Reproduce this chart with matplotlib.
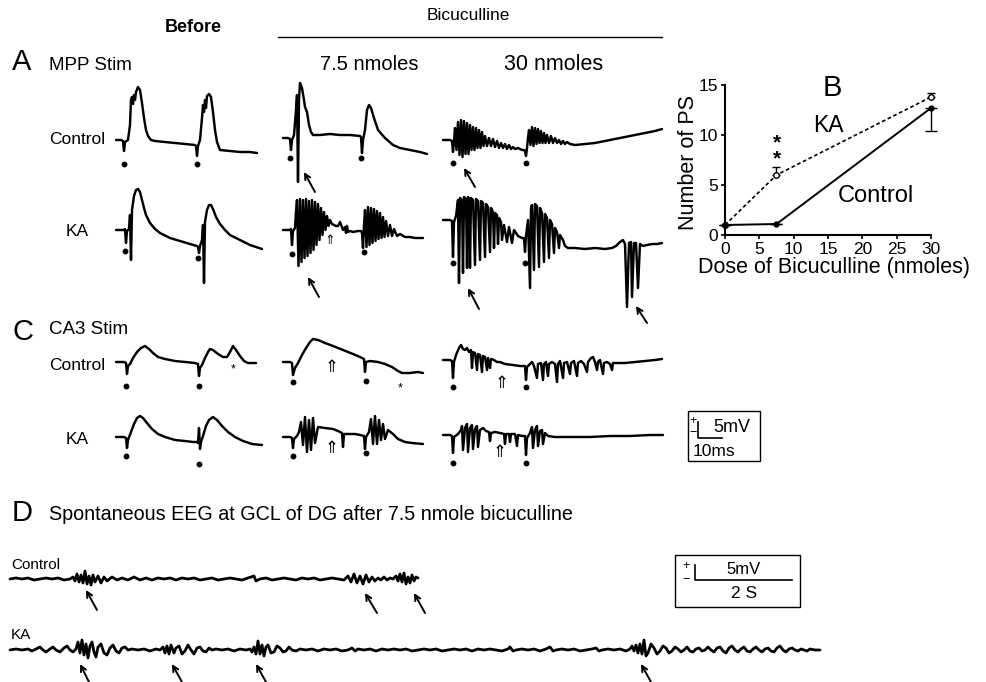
import numpy as np
import matplotlib
matplotlib.use("Agg")
import matplotlib.pyplot as plt
from matplotlib.patches import Rectangle

plt.rcParams['font.family'] = ['Liberation Sans', 'DejaVu Sans']

# ---------------- panel B: number of population spikes vs dose
dose = [0, 7.5, 30]
ps_control = [1.0, 1.1, 12.7]
ps_control_sem = [0, 0, 2.3]     # drawn downward
ps_ka = [1.0, 6.0, 13.8]
ps_ka_sem = [0, 0.8, 0.4]        # drawn upward

# ---------------- evoked field potentials
# t = time from sweep start, v = voltage (up positive), both in px of the original figure
A_ctrl_before_t = [0,5,7,8,9,12,14,15,16,17,18,19,20,22,24,26,28,30,32,35,39,49,59,69,79,80,81,82,84,86,87,88,89,90,91,93,95,97,99,101,104,114,124,134,141]
A_ctrl_before_v = [0,0,-1,-11,-2,0,15,40,43,36,45,40,48,53,50,37,22,10,4,0,-1,-2,-3,-4,-5,-6,-16,-6,0,22,35,28,40,32,44,46,43,28,10,-2,-10,-11,-12,-12,-13]

A_ctrl_75_t = [0,5,7,8,9,11,13,14,15,16,17,19,21,22,24,26,28,30,37,47,57,67,77,78,79,80,82,84,86,88,91,95,102,110,117,127,137,144]
A_ctrl_75_v = [0,0,-1,-12,-2,3,28,43,-44,38,55,50,38,31,26,13,6,3,3,4,3,3,2,1,-15,-2,8,28,33,30,20,8,0,-7,-10,-12,-14,-16]

A_ctrl_30_t = [0,7,9,10,11,
               12,13.5,15,16.5,18,19.5,21,22.5,24,25.5,27,28.5,30,31.5,33,34.5,36,37.5,39,40.5,
               42,44,46,48,50,52,54,56,58,60,62,64,66,68,70,72,75,79,81,82,
               83,84,85,86,87.5,89,90.5,92,93.5,95,96.5,98,99.5,101,102.5,104,106,108,110,112,
               114,116,118,120,122,124,127,132,142,152,162,172,182,192,202,212,219]
A_ctrl_30_v = [0,0,-1,-12,-1,
               12,-10,18,-15,20,-17,19,-14,17,-14,15,-10,13,-10,12,-8,10,-8,8,-6,
               4,-6,2,-6,1,-7,-1,-8,-3,-8,-4,-9,-5,-9,-7,-9,-8,-10,-10,-11,
               -16,-8,2,10,-5,13,-6,12,-4,11,-3,9,-3,7,-3,5,-3,4,-3,2,
               -3,0,-4,-1,-4,-2,-4,-5,-4,-3,-1,1,3,5,7,9,11]

A_ka_before_t = [0,8,9,10,11,13,14,15,16,18,20,22,24,26,28,30,34,39,44,54,64,74,81,82,83,84,86,87,88,89,91,93,95,97,100,104,109,114,124,134,146]
A_ka_before_v = [0,0,1,-13,-1,1,15,-30,20,34,40,41,38,30,22,15,7,1,-3,-8,-11,-14,-16,-17,-23,-16,-10,5,-53,8,20,25,25,21,13,6,0,-5,-10,-15,-19]

A_ka_75_t = [0,7,8,9,10,12,
             13,14,15.5,17,18.5,20,21.5,23,24.5,26,27.5,29,30.5,32,33.5,35,36.5,38,39.5,41,42.5,44,45.5,
             47,49,51,53,55,57,60,62,63,64,65,67,70,75,
             78,79,80,81,82,83.5,85,86.5,88,89.5,91,92.5,94,95.5,97,98.5,100,101.5,103,105,
             107,109,111,114,117,122,127,132,140]
A_ka_75_v = [0,0,1,-15,-1,2,
             18,30,-36,31,-32,30,-28,31,-26,29,-23,30,-20,28,-15,26,-10,22,-5,18,0,14,4,
             10,6,5,4,4,8,0,3,-3,4,-2,-1,-2,-1,
             -1,-3,-18,5,20,-17,23,-15,22,-13,21,-11,19,-9,17,-8,13,-7,9,-6,
             5,-6,1,-6,-4,-7,-7,-8,-8]

A_ka_30_t = [0,7,9,10,11,13,15,16,17,19,20,21,23,24,25,26,27,28,30,32,33,35,37,38,40,42,43,45,47,48,50,51,52,54,55,56,58,59,61,64,66,69,71,75,79,81,82,
             83,85,87,88,89,91,92,94,96,97,99,101,102,104,106,107,109,111,112,114,116,117,120,122,125,132,142,152,162,169,173,177,180,182,
             184,186,188,189,191,193,195,197,200,204,209,214,219]
A_ka_30_v = [0,0,-1,-37,-2,4,20,-63,22,20,-53,23,21,-48,23,21,-48,22,20,-45,21,19,-40,19,17,-37,16,13,-32,12,8,-28,7,5,-24,2,-2,-20,-5,-22,-7,-23,-10,-16,-18,-18,-32,
             -16,0,-68,12,15,-50,16,14,-47,12,7,-42,6,2,-38,0,-4,-33,-8,-12,-28,-15,-20,-26,-28,-28,-29,-28,-29,-28,-26,-22,-20,-24,
             -87,-23,-22,-77,-23,-23,-68,-24,-26,-25,-24,-24,-23]

C_ctrl_before_t = [0,8,10,11,12,14,17,21,25,29,33,37,42,49,59,69,79,82,83,84,86,89,92,94,97,102,107,111,114,117,120,124,128,132,140]
C_ctrl_before_v = [0,0,-1,-12,-4,-2,4,10,14,16,13,9,5,3,1,0,-1,-2,-14,-6,-3,4,10,13,12,8,5,5,10,16,12,6,1,-1,-1]

C_ctrl_75_t = [0,7,9,10,12,15,19,23,27,30,35,42,50,60,70,77,81,82,83,87,95,102,109,115,119,127,135,140]
C_ctrl_75_v = [0,0,-1,-13,-6,-1,7,14,20,23,22,19,16,12,8,5,3,-10,0,1,0,-2,-5,-9,-11,-11,-10,-11]

C_ctrl_30_t = [0,7,9,10,11,13,16,18,20,22,24,26,28,29,30,32,34,35,37,39,40,42,44,45,47,48,51,54,57,62,70,77,82,83,84,87,89,91,94,95,98,100,101,103,105,
               106,109,112,114,115,117,120,121,124,127,128,131,134,135,138,141,144,145,148,150,152,154,155,157,160,161,164,167,169,170,175,182,192,202,212,219]
C_ctrl_30_v = [0,0,-1,-18,-2,5,12,15,11,10,12,8,10,-8,8,7,-10,6,5,-12,4,3,-10,2,-8,1,0,-2,-2,-4,-5,-6,-6,-20,-7,-4,-2,-6,-18,-4,-3,-20,-4,-2,-16,
               -4,-2,-4,-22,-4,-1,-18,-3,-2,-14,-3,-1,-16,-3,-1,-4,-12,-2,2,3,-2,-10,-2,0,-14,-3,-2,-4,-10,-3,-3,-3,-2,-1,0,1]

C_ka_before_t = [0,8,10,11,12,15,18,21,24,27,31,36,42,49,59,69,77,81,82,83,84,85,87,90,93,97,101,106,112,119,127,136,146]
C_ka_before_v = [0,0,-1,-11,-3,5,13,19,21,19,14,8,3,0,-3,-4,-5,-5,-6,9,-12,-5,1,11,17,20,17,11,5,0,-4,-7,-8]

C_ka_75_t = [0,7,9,10,11,14,16,18,20,22,24,26,28,30,32,35,42,50,55,59,60,61,67,72,77,81,82,83,86,88,90,92,94,96,98,100,102,105,110,115,122,129,140]
C_ka_75_v = [0,0,-1,-11,-2,1,5,15,-8,20,-15,17,-13,19,-6,10,9,8,6,4,-10,3,3,3,2,1,-12,0,5,18,-7,21,-7,17,-3,13,-2,7,3,-2,-5,-6,-7]

C_ka_30_t = [0,7,9,10,11,15,18,19,20,22,24,25,27,29,30,32,34,35,37,40,43,46,47,48,52,57,61,62,63,66,67,68,72,74,75,79,82,83,84,87,89,90,92,94,95,97,99,100,102,105,112,127,147,167,187,207,220]
C_ka_30_v = [0,0,-1,-18,-2,1,5,9,-15,7,11,-17,7,10,-14,6,9,-12,5,7,4,3,-6,2,3,2,1,-9,1,1,-7,1,1,-11,0,-1,-1,-20,-3,2,8,-13,5,9,-11,4,5,-9,2,-1,-2,-2,-2,-1,-1,0,0]

# stimulus times for each sweep (same time units)
stim_before = [8, 81]
stim_30 = [10, 83]

# ---------------- spontaneous EEG (D)
eeg_ctrl_t = [0,6,12,18,24,30,36,42,48,54,60,63,65,67,69,71,73,75,77,79,81,83,85,88,91,94,97,102,107,112,118,124,130,136,142,148,154,160,166,172,178,184,190,196,202,
              208,214,220,226,232,238,244,246,250,256,262,268,274,280,286,292,298,304,310,316,322,328,334,338,341,344,347,350,353,356,359,362,365,368,371,374,377,380,383,386,
              388,390,392,394,396,398,400,402,404,406,408]
eeg_ctrl_v = [0,1,0,1,-1,0,1,0,1,-1,0,2,-2,5,-3,4,-4,8,-5,3,-6,4,-3,3,-4,2,-2,2,-1,1,-1,2,-1,1,-1,1,0,1,-1,1,0,1,-1,0,1,
              -1,0,1,0,-1,1,3,-2,0,1,-1,0,1,0,-1,1,0,1,-1,0,1,0,-1,3,-3,5,-4,3,-5,4,-3,2,-2,1,-1,2,-1,1,0,3,
              -2,5,-3,6,-5,2,-4,4,-2,2,1]

eeg_ka = [(0,0),(6,1),(12,0),(18,1),(22,-1),(26,1),(30,3),(33,0),(36,-2),(40,1),(43,3),(46,0),(50,-2),(54,2),(57,4),(60,0),(63,-2),(66,1),
          (68,8),(70,-3),(72,10),(74,-5),(76,6),(78,-8),(80,4),(82,8),(84,-2),(86,-7),(88,3),(91,6),(94,-3),(97,-5),(100,2),(103,5),(106,-1),
          (109,-3),(112,2),(115,3),(118,0),(122,1),(128,0),(134,1),(140,-1),(146,1),(150,0),(153,3),(155,-3),(157,4),(159,-4),(161,5),(164,-3),
          (166,2),(169,4),(172,-4),(175,-1),(178,5),(181,0),(184,-4),(187,2),(190,3),(193,-1),(196,-2),(199,2),(202,0),(206,1),(212,0),(218,1),
          (224,-1),(230,1),(236,0),(240,1),(242,-2),(244,3),(246,-4),(248,9),(250,-4),(252,5),(254,-6),(256,3),(258,5),(261,-3),(264,-2),(267,4),
          (270,2),(273,-2),(276,-1),(279,3),(282,0),(286,-1),(290,1),(296,0),(302,1),(308,-1),(314,1),(320,0),(326,1),(332,-1),(338,0),(342,2),
          (345,-1),(348,1),(354,0),(360,1),(366,-1),(372,1),(378,0),(384,1),(390,0),(396,1),(402,-1),(408,0),(414,1),(420,0),(426,1),(432,-1),
          (438,0),(444,1),(450,0),(456,1),(462,-1),(468,1),(474,0),(480,1),(486,0),(492,-1),(498,1),(500,3),(503,-1),(506,0),(512,1),(518,0),
          (524,1),(530,-1),(536,1),(540,3),(543,-1),(546,0),(552,1),(558,0),(564,1),(570,-1),(576,0),(582,1),(586,2),(589,-1),(592,0),(598,1),
          (604,0),(610,1),(616,-1),(620,1),(622,4),(624,-1),(626,5),(628,-3),(630,6),(632,-4),(634,10),(636,-6),(638,-3),(641,6),(644,2),(647,-4),
          (650,-1),(653,4),(656,2),(659,-3),(662,-1),(665,3),(668,1),(671,-2),(674,0),(677,3),(680,-1),(683,-2),(686,1),(689,2),(692,-1),(695,0),
          (698,3),(701,0),(704,-2),(707,2),(710,3),(713,-1),(716,-3),(719,2),(722,4),(725,0),(728,-2),(731,1),(734,3),(737,-1),(740,-2),(743,1),
          (746,3),(749,0),(752,-2),(755,1),(758,2),(761,-1),(764,-2),(767,2),(770,4),(773,0),(776,-2),(779,1),(782,2),(785,0),(788,-1),(791,1),
          (794,0),(797,-1),(800,1),(805,0),(810,0)]


fig = plt.figure(figsize=(9.87, 6.82), dpi=100)
ax = fig.add_axes([0, 0, 1, 1])
ax.set_xlim(0, 987)
ax.set_ylim(682, 0)
ax.axis('off')


def trace(t, v, x0, y0, lw=1.75):
    ax.plot(x0 + np.asarray(t), y0 - np.asarray(v), color='k', lw=lw,
            solid_joinstyle='round', solid_capstyle='round')


def stim_dots(stim, x0, y0, drops):
    for s, d in zip(stim, drops):
        ax.plot(x0 + s, y0 + d, 'o', ms=3.2, color='k')


def arrow(head, tail):
    ax.annotate('', xy=head, xytext=tail,
                arrowprops=dict(arrowstyle='->', lw=1.4, color='k',
                                shrinkA=0, shrinkB=0, mutation_scale=10))


# sweep placement: (t, v, stim, x0, y0, dot drops)
sweeps = [
    (A_ctrl_before_t, A_ctrl_before_v, stim_before, 116, 140, [24, 24]),
    (A_ctrl_75_t, A_ctrl_75_v, [7, 78], 283, 138, [20, 20]),
    (A_ctrl_30_t, A_ctrl_30_v, stim_30, 443, 140, [23, 23]),
    (A_ka_before_t, A_ka_before_v, [9, 82], 116, 230, [21, 28]),
    (A_ka_75_t, A_ka_75_v, [9, 81], 283, 230, [24, 22]),
    (A_ka_30_t, A_ka_30_v, [10, 82], 443, 220, [43, 43]),
    (C_ctrl_before_t, C_ctrl_before_v, [10, 83], 116, 362, [24, 24]),
    (C_ctrl_75_t, C_ctrl_75_v, [10, 83], 283, 362, [20, 19]),
    (C_ctrl_30_t, C_ctrl_30_v, stim_30, 443, 360, [27, 27]),
    (C_ka_before_t, C_ka_before_v, [10, 83], 116, 437, [19, 27]),
    (C_ka_75_t, C_ka_75_v, [10, 83], 283, 437, [19, 16]),
    (C_ka_30_t, C_ka_30_v, stim_30, 443, 435, [28, 28]),
]
for t, v, stim, x0, y0, drops in sweeps:
    trace(t, v, x0, y0)
    stim_dots(stim, x0, y0, drops)

trace(eeg_ctrl_t, eeg_ctrl_v, 10, 579, lw=2.0)
ka_t, ka_v = zip(*eeg_ka)
trace(ka_t, ka_v, 10, 650, lw=2.0)

# headers
ax.text(193, 28, 'Before', fontsize=13, fontweight='bold', ha='center', va='center')
ax.text(468, 15, 'Bicuculline', fontsize=12.5, ha='center', va='center')
ax.plot([278, 662], [37, 37], color='k', lw=1)
ax.text(369, 65, '7.5 nmoles', fontsize=14.5, ha='center', va='center')
ax.text(554, 65, '30 nmoles', fontsize=15.5, ha='center', va='center')

# panel letters and row labels
ax.text(12, 62, 'A', fontsize=21, ha='left', va='center')
ax.text(49, 65, 'MPP Stim', fontsize=13.5, ha='left', va='center')
ax.text(105, 140, 'Control', fontsize=12.5, ha='right', va='center')
ax.text(89, 232, 'KA', fontsize=12.5, ha='right', va='center')
ax.text(12, 332, 'C', fontsize=21, ha='left', va='center')
ax.text(49, 330, 'CA3 Stim', fontsize=13.5, ha='left', va='center')
ax.text(105, 365, 'Control', fontsize=12.5, ha='right', va='center')
ax.text(89, 439, 'KA', fontsize=12.5, ha='right', va='center')
ax.text(12, 513, 'D', fontsize=21, ha='left', va='center')
ax.text(49, 514, 'Spontaneous EEG at GCL of DG after 7.5 nmole bicuculline',
        fontsize=14.2, ha='left', va='center')
ax.text(11, 565, 'Control', fontsize=11, ha='left', va='center')
ax.text(11, 635, 'KA', fontsize=11, ha='left', va='center')

# arrows marking population spikes / discharges
for head, tail in [((304, 172), (315, 192)), ((464, 168), (475, 187)),
                   ((308, 277), (319, 297)), ((468, 288), (479, 309)),
                   ((636, 306), (647, 323)),
                   ((86, 590), (97, 610)), ((365, 593), (377, 613)), ((414, 593), (425, 613)),
                   ((80, 664), (89, 682)), ((172, 664), (182, 682)), ((256, 664), (266, 682)),
                   ((641, 664), (651, 682))]:
    arrow(head, tail)

# open arrows and asterisks
for x, y, s in [(330, 241, 9), (332, 367, 12), (502, 383, 12), (332, 448, 12), (500, 452, 12)]:
    ax.text(x, y, '\u21d1', fontsize=s, family='DejaVu Sans', ha='center', va='center')
ax.text(233, 369, '*', fontsize=9, ha='center', va='center')
ax.text(400, 388, '*', fontsize=9, ha='center', va='center')

# calibration boxes
ax.add_patch(Rectangle((688, 411), 72, 50, fill=False, lw=1, ec='k'))
ax.text(693, 421, '+', fontsize=9, ha='center', va='center')
ax.text(693, 433, '\u2212', fontsize=9, ha='center', va='center')
ax.plot([698, 698, 722], [422, 438, 438], color='k', lw=1.2)
ax.text(732, 428, '5mV', fontsize=13, ha='center', va='center')
ax.text(714, 451, '10ms', fontsize=12.5, ha='center', va='center')

ax.add_patch(Rectangle((675, 555), 125, 52, fill=False, lw=1, ec='k'))
ax.text(686, 566, '+', fontsize=9, ha='center', va='center')
ax.text(686, 580, '\u2212', fontsize=9, ha='center', va='center')
ax.plot([695, 695, 792], [565, 580, 580], color='k', lw=1.2)
ax.text(744, 570, '5mV', fontsize=12, ha='center', va='center')
ax.text(744, 594, '2 S', fontsize=12.5, ha='center', va='center')

# ---------------- panel B
axb = fig.add_axes([725 / 987, 1 - 235 / 682, (931 - 725) / 987, (235 - 85) / 682])
axb.set_facecolor('none')
axb.plot(dose, ps_ka, color='k', lw=1.2, ls=(0, (2.2, 1.6)), marker='o', ms=4,
         mfc='white', mec='k', mew=1, clip_on=False, zorder=3)
axb.errorbar(dose, ps_ka, yerr=[[0, 0, 0], ps_ka_sem], fmt='none',
             ecolor='k', elinewidth=1, capsize=3, capthick=1, clip_on=False)
axb.plot(dose, ps_control, color='k', lw=1.4, marker='o', ms=3.5, clip_on=False, zorder=5)
axb.errorbar(dose, ps_control, yerr=[ps_control_sem, [0, 0, 0]], fmt='none',
             ecolor='k', elinewidth=1, capsize=4, capthick=1, clip_on=False)
axb.set_xlim(0, 30)
axb.set_ylim(0, 15)
axb.set_xticks([0, 5, 10, 15, 20, 25, 30])
axb.set_yticks([0, 5, 10, 15])
for side in ['top', 'right']:
    axb.spines[side].set_visible(False)
for side in ['left', 'bottom']:
    axb.spines[side].set_linewidth(1.5)
axb.tick_params(direction='out', length=3, width=1.2, labelsize=12.5, pad=2)

ax.text(832, 88, 'B', fontsize=21, ha='center', va='center')
ax.text(828, 126, 'KA', fontsize=16.5, ha='center', va='center')
ax.text(876, 196, 'Control', fontsize=17, ha='center', va='center')
ax.text(777, 151, '*\n*', fontsize=15, fontweight='bold', ha='center', va='center',
        linespacing=0.75)
ax.text(834, 268, 'Dose of Bicuculline (nmoles)', fontsize=15.5, ha='center', va='center')
ax.text(688, 162, 'Number of PS', fontsize=15.5, rotation=90, ha='center', va='center')

fig.savefig('out.png', dpi=100)
